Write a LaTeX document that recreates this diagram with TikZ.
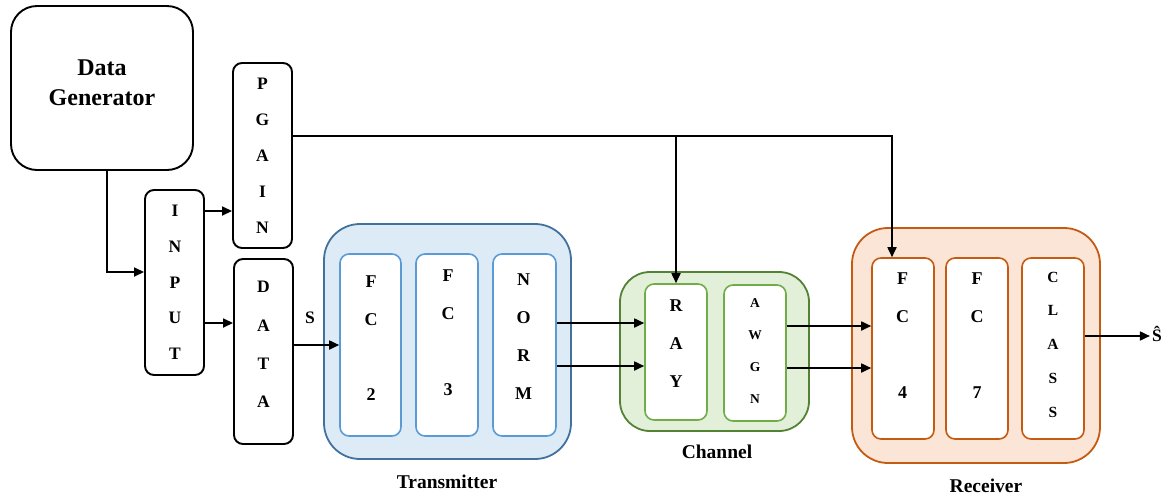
\documentclass[tikz,border=0pt]{standalone}
\usepackage{fontspec}
\setmainfont{Liberation Serif}
\usetikzlibrary{arrows.meta}
\definecolor{txfill}{HTML}{DDEBF7}
\definecolor{txline}{HTML}{41719C}
\definecolor{txinner}{HTML}{5B9BD5}
\definecolor{chfill}{HTML}{E2F0D9}
\definecolor{chline}{HTML}{548235}
\definecolor{chinner}{HTML}{70AD47}
\definecolor{rxfill}{HTML}{FBE5D6}
\definecolor{rxline}{HTML}{C55A11}
\tikzset{
  blockbox/.style={draw=black, line width=1.9pt, rounded corners=9pt, fill=white, inner sep=0pt},
  layerbox/.style={draw=#1, line width=1.6pt, rounded corners=9pt, fill=white, inner sep=0pt},
  groupbox/.style 2 args={draw=#1, fill=#2, line width=1.8pt, rounded corners=36pt, inner sep=0pt},
  stack/.style 2 args={align=center, inner sep=0pt,
    font=\bfseries\fontsize{#1}{#2}\selectfont},
  caption/.style={font=\bfseries\fontsize{19.5}{22}\selectfont, inner sep=1pt},
  arr/.style={line width=1.7pt, -{Triangle[length=10pt,width=9pt]}},
}
\begin{document}
\begin{tikzpicture}[x=1pt,y=-1pt]
\useasboundingbox (0,0) rectangle (1168,499);

% group containers
\node[groupbox={txline}{txfill}, minimum width=247, minimum height=235] (tx) at (447.5,341.5) {};
\node[groupbox={chline}{chfill}, rounded corners=30pt, minimum width=189, minimum height=159] (ch) at (714.5,351.5) {};
\node[groupbox={rxline}{rxfill}, minimum width=248, minimum height=235] (rx) at (976,345.5) {};

\node[caption] (txlab) at (447,482) {Transmitter};
\node[caption] (chlab) at (717,452) {Channel};
\node[caption] (rxlab) at (986,486) {Receiver};

% data source and input stage
\node[blockbox, rounded corners=26pt, minimum width=182, minimum height=164] (dg) at (102,88) {};
\node[align=center, font=\bfseries\fontsize{24}{30}\selectfont, inner sep=0pt] (dgtext) at (102,83) {Data\\Generator};

\node[blockbox, minimum width=59, minimum height=185] (input) at (174.5,282.5) {};
\node[stack={17.5}{35.75}] (inputtext) at (175,282.5) {I\\N\\P\\U\\T};

\node[blockbox, minimum width=59, minimum height=185] (pgain) at (262.5,155.5) {};
\node[stack={17.5}{36}] (pgaintext) at (262.5,156) {P\\G\\A\\I\\N};

\node[blockbox, minimum width=59, minimum height=185] (data) at (263.5,351.5) {};
\node[stack={17.5}{38.3}] (datatext) at (263.5,344.5) {D\\A\\T\\A};

% transmitter layers
\node[layerbox=txinner, minimum width=61, minimum height=182] (fc2) at (370.5,345) {};
\node[stack={18}{37.5}] (fc2text) at (371,338) {F\\C\\\mbox{}\\2};
\node[layerbox=txinner, minimum width=62, minimum height=182] (fc3) at (447,345) {};
\node[stack={18}{38}] (fc3text) at (448,333) {F\\C\\\mbox{}\\3};
\node[layerbox=txinner, minimum width=63, minimum height=182] (norm) at (524.5,345) {};
\node[stack={18}{38}] (normtext) at (523.5,337) {N\\O\\R\\M};

% channel layers
\node[layerbox=chinner, minimum width=62, minimum height=136] (ray) at (676,352) {};
\node[stack={18}{38}] (raytext) at (676,344) {R\\A\\Y};
\node[layerbox=chinner, minimum width=62, minimum height=136] (awgn) at (755,353) {};
\node[stack={13.5}{32}] (awgntext) at (755,351) {A\\W\\G\\N};

% receiver layers
\node[layerbox=rxline, minimum width=62, minimum height=181] (fc4) at (903,348.5) {};
\node[stack={18}{38}] (fc4text) at (902.5,335.5) {F\\C\\\mbox{}\\4};
\node[layerbox=rxline, minimum width=62, minimum height=181] (fc7) at (977,348.5) {};
\node[stack={18}{38}] (fc7text) at (977,335.5) {F\\C\\\mbox{}\\7};
\node[layerbox=rxline, minimum width=62, minimum height=181] (class) at (1053,348.5) {};
\node[stack={15.5}{33.75}] (classtext) at (1053,344.5) {C\\L\\A\\S\\S};

% signal labels
\node[font=\bfseries\fontsize{17.5}{20}\selectfont, inner sep=0pt] (s) at (310,318) {S};
\node[font=\bfseries\fontsize{17.5}{20}\selectfont, inner sep=2pt] (shat) at (1157,334) {Ŝ};

% connectors
\draw[arr] ([xshift=5pt]dg.south) |- ([yshift=10.5pt]input.west);
\draw[arr] ([yshift=71.5pt]input.east) -- ([yshift=71.5pt]input.east -| pgain.west);
\draw[arr] ([yshift=-40.5pt]input.east) -- ([yshift=-40.5pt]input.east -| data.west);
\draw[arr] ([yshift=6.5pt]data.east) -- ([yshift=6.5pt]data.east -| fc2.west);

\coordinate (tap) at ([yshift=19.5pt]pgain.east);
\draw[arr] (tap) -| ([xshift=-11pt]fc4.north);
\draw[arr] (ray.north |- tap) -- (ray.north);

\draw[arr] ([yshift=22pt]norm.east) -- ([yshift=22pt]norm.east -| ray.west);
\draw[arr] ([yshift=-21pt]norm.east) -- ([yshift=-21pt]norm.east -| ray.west);
\draw[arr] ([yshift=27pt]awgn.east) -- ([yshift=27pt]awgn.east -| fc4.west);
\draw[arr] ([yshift=-15pt]awgn.east) -- ([yshift=-15pt]awgn.east -| fc4.west);
\draw[arr] ([yshift=12.5pt]class.east) -- ([yshift=12.5pt]class.east -| shat.west);
\end{tikzpicture}
\end{document}
